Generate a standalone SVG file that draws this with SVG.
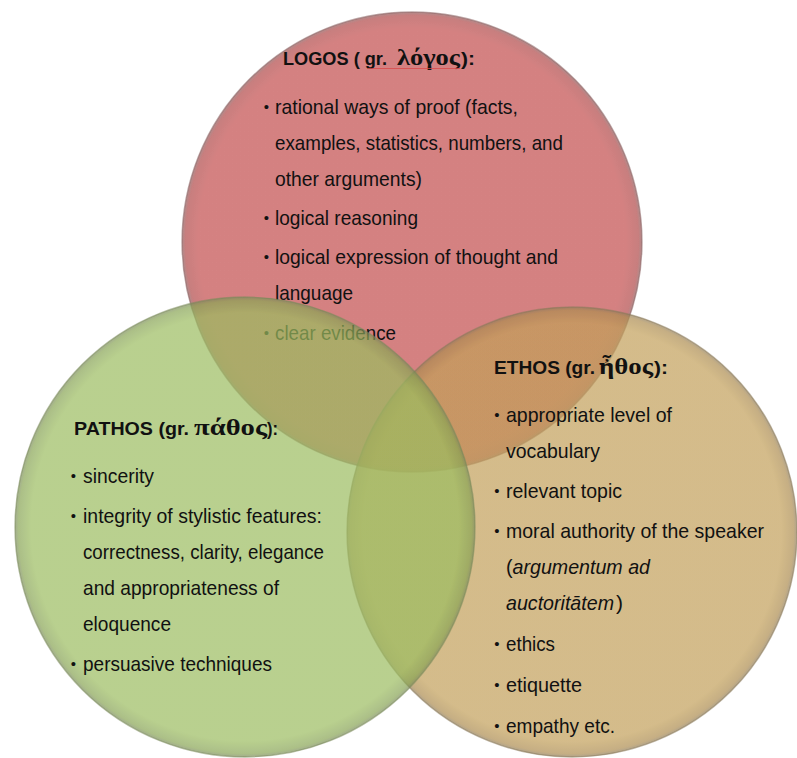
<svg xmlns="http://www.w3.org/2000/svg" width="797" height="758" viewBox="0 0 797 758">
  <defs>
    <style>
      .body { font-family: "Liberation Sans Narrow", "Liberation Sans", Arial, sans-serif; font-size: 21px; fill: #111; }
      .it { font-style: italic; }
      .bullet { font-family: "Liberation Sans", Arial, sans-serif; font-size: 15px; fill: #111; text-anchor: middle; }
      .title { font-family: "Liberation Sans", Arial, sans-serif; font-weight: bold; font-size: 18px; fill: #111; }
      .greek { font-family: "Liberation Serif", "DejaVu Serif", serif; font-weight: bold; font-size: 24px; fill: #111; }
      .disc { fill-opacity: 0.7; stroke-width: 1.4; stroke-opacity: 0.55; filter: url(#soft); }
    </style>
    <filter id="soft" x="-5%" y="-5%" width="110%" height="110%">
      <feGaussianBlur stdDeviation="0.7"/>
    </filter>
    <!-- flat body with a darker rim toward the edge -->
    <radialGradient id="gRed">
      <stop offset="0" stop-color="#c24d4d"/>
      <stop offset="0.93" stop-color="#c24d4d"/>
      <stop offset="0.985" stop-color="#b04848"/>
      <stop offset="1" stop-color="#8e5a5a"/>
    </radialGradient>
    <radialGradient id="gTan">
      <stop offset="0" stop-color="#c29f58"/>
      <stop offset="0.93" stop-color="#c29f58"/>
      <stop offset="0.985" stop-color="#ad8c50"/>
      <stop offset="1" stop-color="#8f7c5a"/>
    </radialGradient>
    <radialGradient id="gGreen">
      <stop offset="0" stop-color="#9bbc5f"/>
      <stop offset="0.93" stop-color="#9bbc5f"/>
      <stop offset="0.985" stop-color="#88a455"/>
      <stop offset="1" stop-color="#7a8a5a"/>
    </radialGradient>
  </defs>

  <rect width="797" height="758" fill="#ffffff"/>

  <!-- LOGOS -->
  <g id="logos">
    <circle class="disc" cx="412" cy="242" r="230" fill="url(#gRed)" stroke="#8a6060"/>
    <text class="title" x="283" y="65" textLength="104" lengthAdjust="spacingAndGlyphs">LOGOS ( gr.</text>
    <text class="greek" x="397" y="65" textLength="63" lengthAdjust="spacingAndGlyphs">λόγος</text>
    <text class="title" x="461" y="65" textLength="14" lengthAdjust="spacingAndGlyphs">):</text>
    <line x1="368" y1="68.5" x2="460" y2="68.5" stroke="#d94a4a" stroke-width="0.8"/>

    <text class="bullet" x="266.5" y="111.5">•</text>
    <text class="body" x="275" y="114" textLength="243" lengthAdjust="spacingAndGlyphs">rational ways of proof (facts,</text>
    <text class="body" x="275" y="150" textLength="288" lengthAdjust="spacingAndGlyphs">examples, statistics, numbers, and</text>
    <text class="body" x="275" y="186" textLength="147" lengthAdjust="spacingAndGlyphs">other arguments)</text>
    <text class="bullet" x="266.5" y="222.5">•</text>
    <text class="body" x="275" y="225" textLength="143" lengthAdjust="spacingAndGlyphs">logical reasoning</text>
    <text class="bullet" x="266.5" y="261.5">•</text>
    <text class="body" x="275" y="264" textLength="283" lengthAdjust="spacingAndGlyphs">logical expression of thought and</text>
    <text class="body" x="275" y="300" textLength="78" lengthAdjust="spacingAndGlyphs">language</text>
    <text class="bullet" x="266.5" y="337.5">•</text>
    <text class="body" x="275" y="340" textLength="121" lengthAdjust="spacingAndGlyphs">clear evidence</text>
  </g>

  <!-- ETHOS -->
  <g id="ethos">
    <circle class="disc" cx="572" cy="532" r="225" fill="url(#gTan)" stroke="#8a7a5a"/>
    <text class="title" x="494" y="374" textLength="101" lengthAdjust="spacingAndGlyphs">ETHOS (gr.</text>
    <text class="greek" x="599" y="374" textLength="54" lengthAdjust="spacingAndGlyphs">ἦθος</text>
    <text class="title" x="654" y="374" textLength="14" lengthAdjust="spacingAndGlyphs">):</text>

    <text class="bullet" x="497" y="419.5">•</text>
    <text class="body" x="506" y="422" textLength="166" lengthAdjust="spacingAndGlyphs">appropriate level of</text>
    <text class="body" x="506" y="458" textLength="94" lengthAdjust="spacingAndGlyphs">vocabulary</text>
    <text class="bullet" x="497" y="495.5">•</text>
    <text class="body" x="506" y="498" textLength="116" lengthAdjust="spacingAndGlyphs">relevant topic</text>
    <text class="bullet" x="497" y="535.5">•</text>
    <text class="body" x="506" y="538" textLength="258" lengthAdjust="spacingAndGlyphs">moral authority of the speaker</text>
    <text class="body" x="506" y="574" textLength="144" lengthAdjust="spacingAndGlyphs">(<tspan class="it">argumentum ad</tspan></text>
    <text class="body" x="506" y="610"><tspan class="it" textLength="108" lengthAdjust="spacingAndGlyphs">auctoritātem</tspan><tspan dx="2">)</tspan></text>
    <text class="bullet" x="497" y="648.5">•</text>
    <text class="body" x="506" y="651" textLength="49" lengthAdjust="spacingAndGlyphs">ethics</text>
    <text class="bullet" x="497" y="689.5">•</text>
    <text class="body" x="506" y="692" textLength="76" lengthAdjust="spacingAndGlyphs">etiquette</text>
    <text class="bullet" x="497" y="730.5">•</text>
    <text class="body" x="506" y="733" textLength="109" lengthAdjust="spacingAndGlyphs">empathy etc.</text>
  </g>

  <!-- PATHOS -->
  <g id="pathos">
    <circle class="disc" cx="245" cy="527" r="230" fill="url(#gGreen)" stroke="#7a8a5a"/>
    <text class="title" x="74" y="435" textLength="115" lengthAdjust="spacingAndGlyphs">PATHOS (gr.</text>
    <text class="greek" x="194" y="435" textLength="73" lengthAdjust="spacingAndGlyphs">πάθος</text>
    <text class="title" x="267" y="435" textLength="11" lengthAdjust="spacingAndGlyphs">):</text>

    <text class="bullet" x="73.5" y="480.5">•</text>
    <text class="body" x="83" y="483" textLength="71" lengthAdjust="spacingAndGlyphs">sincerity</text>
    <text class="bullet" x="73.5" y="520.5">•</text>
    <text class="body" x="83" y="523" textLength="239" lengthAdjust="spacingAndGlyphs">integrity of stylistic features:</text>
    <text class="body" x="83" y="559" textLength="241" lengthAdjust="spacingAndGlyphs">correctness, clarity, elegance</text>
    <text class="body" x="83" y="595" textLength="196" lengthAdjust="spacingAndGlyphs">and appropriateness of</text>
    <text class="body" x="83" y="631" textLength="88" lengthAdjust="spacingAndGlyphs">eloquence</text>
    <text class="bullet" x="73.5" y="668.5">•</text>
    <text class="body" x="83" y="671" textLength="189" lengthAdjust="spacingAndGlyphs">persuasive techniques</text>
  </g>
</svg>
